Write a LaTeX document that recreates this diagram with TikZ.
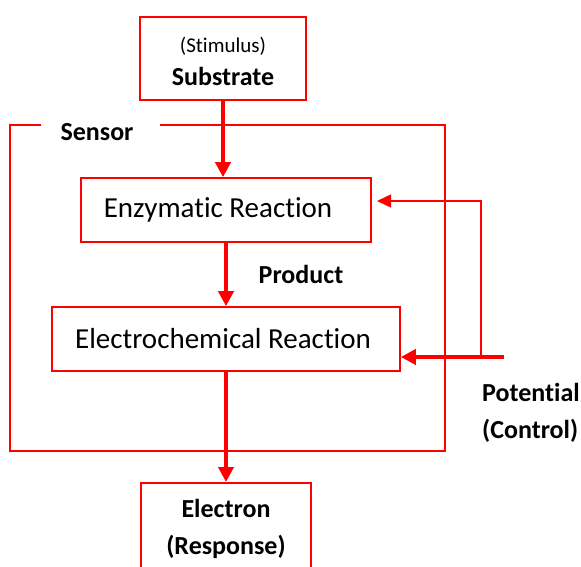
\documentclass[tikz,border=0pt]{standalone}
\usepackage{fontspec}
\setmainfont[Ligatures=NoCommon]{Carlito}
\usetikzlibrary{arrows.meta,positioning}
\definecolor{flowred}{RGB}{255,0,0}
\tikzset{
  blockbox/.style={draw=flowred,line width=1.6pt,inner sep=0pt,align=center},
  mainfont/.style={font=\fontsize{29}{35}\selectfont},
  boldlbl/.style={font=\fontsize{26}{37}\selectfont\bfseries,inner sep=0pt},
  flowarrow/.style={-{Triangle[length=15pt,width=15pt]},draw=flowred,line width=4.5pt},
  ctrlarrow/.style={-{Triangle[length=14pt,width=13pt]},draw=flowred,line width=1.5pt},
  frameline/.style={draw=flowred,line width=1.5pt},
}

\begin{document}
\begin{tikzpicture}[x=1pt,y=-1pt]
  \useasboundingbox (0,0) rectangle (581,567);
  % the boxes
  \node[blockbox,minimum width=166pt,minimum height=83pt] (subst) at (223,58.5)
    {{\fontsize{21}{26}\selectfont\rule{0pt}{21pt}(Stimulus)}\\[11pt]
     {\fontsize{26}{30}\selectfont\bfseries Substrate}};
  \node[blockbox,mainfont,minimum width=290pt,minimum height=64pt] (enzyme) at (226,210)
    {\hspace*{-16pt}Enzymatic Reaction};
  \node[blockbox,mainfont,minimum width=348pt,minimum height=64pt] (echem) at (226,339)
    {\hspace*{-6pt}Electrochemical Reaction};
  \node[blockbox,boldlbl,minimum width=170pt,inner ysep=16pt,anchor=north] (electron)
    at (226,482) {Electron\\(Response)};
  % the sensor frame, open at its label
  \draw[frameline] (41,125) -| (10,451) -| (445,125) -- (160,125);
  \node[boldlbl] (sensorlbl) at (97,132) {Sensor};
  \node[boldlbl] (productlbl) at (301,274) {Product};
  \node[boldlbl,align=left,anchor=west] (potlbl) at (482,413) {Potential\\(Control)};
  % the flow
  \draw[flowarrow] (subst.south) -- (subst.south |- enzyme.north);
  \draw[flowarrow] (enzyme.south) -- (enzyme.south |- echem.north);
  \draw[flowarrow] (echem.south) -- (echem.south |- electron.north);
  % the control potential
  \coordinate (potin) at (504,357);
  \coordinate (split) at (481,357);
  \coordinate (ctrltip) at (377,201);
  \draw[flowarrow] (potin) -- (echem.east |- potin);
  \draw[ctrlarrow] (split) |- (ctrltip);
\end{tikzpicture}
\end{document}
